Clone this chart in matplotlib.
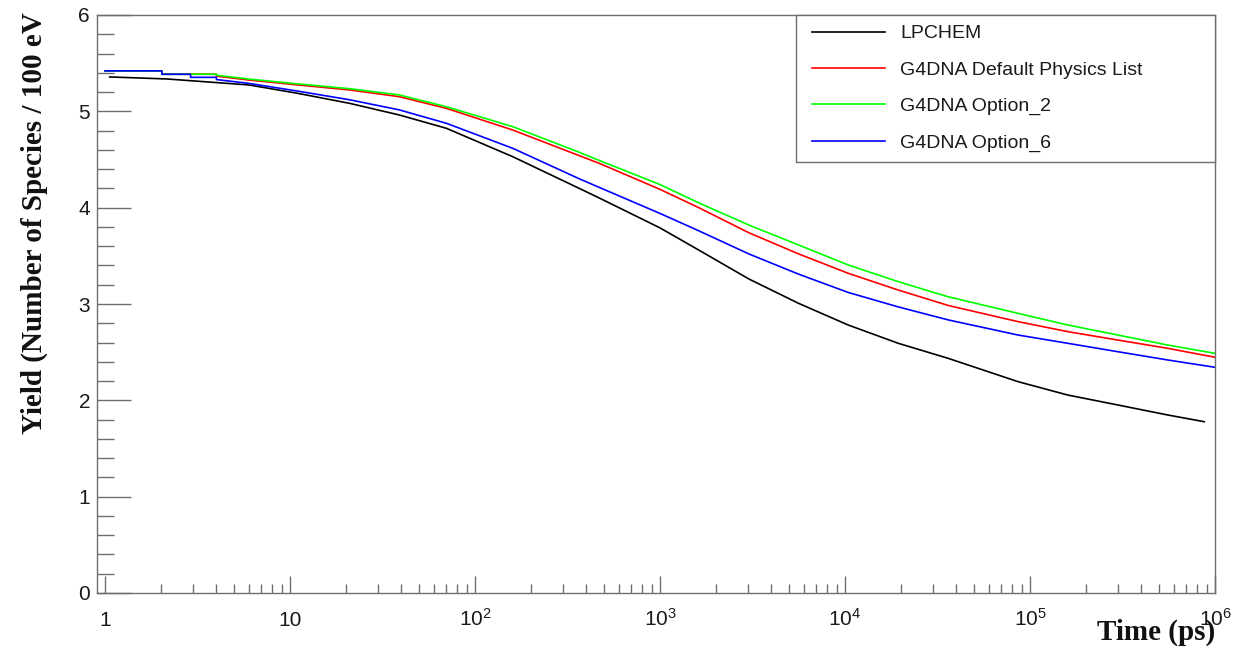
import numpy as np
import matplotlib
matplotlib.use("Agg")
import matplotlib.pyplot as plt
from matplotlib.ticker import LogLocator, MultipleLocator, FixedLocator, FuncFormatter, NullFormatter
from matplotlib.legend_handler import HandlerLine2D
from matplotlib.lines import Line2D

plt.rcParams['font.family'] = ['Liberation Sans', 'DejaVu Sans']
plt.rcParams['mathtext.fontset'] = 'custom'
plt.rcParams['mathtext.rm'] = 'Liberation Sans'
plt.rcParams['mathtext.it'] = 'Liberation Sans:italic'
plt.rcParams['mathtext.bf'] = 'Liberation Sans:bold'
plt.rcParams['mathtext.default'] = 'regular'

# ---------------- data ----------------
series_labels = ["LPCHEM", "G4DNA Default Physics List", "G4DNA Option_2", "G4DNA Option_6"]
series_colors = ["#000000", "#ff0000", "#00ff00", "#0000ff"]

time_common = [6, 11, 21, 39, 70, 160, 366, 470, 1000, 1620, 3020, 5610, 10400,
               19400, 36100, 86100, 160000, 298000, 555000]

lpchem_time = [1.06, 2.16] + time_common + [875000]
lpchem_yield = [5.357, 5.336, 5.274, 5.187, 5.083, 4.962, 4.824, 4.529, 4.20, 4.10,
                3.79, 3.56, 3.26, 3.007, 2.782, 2.592, 2.436, 2.194, 2.055, 1.952,
                1.848, 1.778]

default_time = [1, 2.03, 2.03, 4.0, 4.0] + time_common + [1000000]
default_yield = [5.42, 5.42, 5.385, 5.385, 5.365,
                 5.325, 5.274, 5.222, 5.152, 5.031, 4.806, 4.54, 4.46, 4.19, 4.00,
                 3.74, 3.52, 3.319, 3.145, 2.985, 2.817, 2.713, 2.626, 2.540, 2.447]

opt2_time = [1, 2.03, 2.03, 4.0, 4.0] + time_common + [1000000]
opt2_yield = [5.42, 5.42, 5.385, 5.385, 5.375,
              5.335, 5.285, 5.235, 5.17, 5.048, 4.841, 4.575, 4.49, 4.24, 4.05,
              3.82, 3.613, 3.405, 3.232, 3.075, 2.903, 2.782, 2.678, 2.574, 2.488]

opt6_time = [1, 2.03, 2.03, 2.9, 2.9, 4.0, 4.0] + time_common + [1000000]
opt6_yield = [5.42, 5.42, 5.385, 5.385, 5.353, 5.353, 5.33,
              5.29, 5.21, 5.12, 5.015, 4.876, 4.616, 4.30, 4.21, 3.94, 3.76,
              3.52, 3.31, 3.12, 2.97, 2.835, 2.678, 2.592, 2.505, 2.419, 2.343]

x_ticks = [1, 10, 100, 1000, 10000, 100000, 1000000]
y_ticks = [0, 1, 2, 3, 4, 5, 6]

x_title = "Time (ps)"
y_title = "Yield (Number of Species / 100 eV"

# ---------------- figure ----------------
W, H = 1234, 650
fig = plt.figure(figsize=(W / 100, H / 100), dpi=100)
ax = fig.add_axes([97 / W, (H - 593) / H, (1215 - 97) / W, (593 - 15) / H])

all_t = [lpchem_time, default_time, opt2_time, opt6_time]
all_y = [lpchem_yield, default_yield, opt2_yield, opt6_yield]
for t, y, lab, col in zip(all_t, all_y, series_labels, series_colors):
    ax.plot(t, y, color=col, lw=1.2, label=lab, solid_joinstyle='round')

ax.set_xscale('log')
ax.set_xlim(0.905, 1e6)
ax.set_ylim(0, 6)

axis_col = '#6e6e6e'
for sp in ax.spines.values():
    sp.set_color(axis_col)
    sp.set_linewidth(1.0)

ax.xaxis.set_major_locator(FixedLocator(x_ticks))
ax.xaxis.set_minor_locator(LogLocator(base=10, subs=np.arange(2, 10), numticks=20))
ax.xaxis.set_minor_formatter(NullFormatter())


def xfmt(v, pos):
    e = int(round(np.log10(v)))
    if e == 0:
        return "1"
    if e == 1:
        return "10"
    return r"$10^{%d}$" % e


ax.xaxis.set_major_formatter(FuncFormatter(xfmt))
ax.yaxis.set_major_locator(FixedLocator(y_ticks))
ax.yaxis.set_minor_locator(MultipleLocator(0.2))

ax.tick_params(axis='x', which='major', direction='in', length=12.2, width=1.0,
               color=axis_col, labelsize=15, pad=23.5, labelcolor='#1a1a1a')
ax.tick_params(axis='x', which='minor', direction='in', length=6.5, width=1.0, color=axis_col)
ax.tick_params(axis='y', which='major', direction='in', length=24.5, width=1.0,
               color=axis_col, labelsize=15, pad=5, labelcolor='#1a1a1a')
ax.tick_params(axis='y', which='minor', direction='in', length=12.2, width=1.0, color=axis_col)
ax.tick_params(top=False, right=False, which='both')

for tk in ax.xaxis.get_major_ticks():
    tk.label1.set_verticalalignment('baseline')

leg = ax.legend(loc='upper left', bbox_to_anchor=(0.625, 1.0, 0.375, 0.0), mode='expand',
                borderaxespad=0, fontsize=14, handlelength=4.41, handletextpad=0.45,
                labelspacing=0.97, borderpad=0.5, frameon=True, fancybox=False,
                edgecolor=axis_col, framealpha=1, numpoints=2,
                handler_map={Line2D: HandlerLine2D(marker_pad=0.32, numpoints=2)})
leg.get_frame().set_linewidth(1.0)
for txt in leg.get_texts():
    txt.set_color('#1a1a1a')

fig.text(1215 / W, (H - 640) / H, x_title, ha='right', va='baseline',
         fontsize=21, fontweight='bold', family='Liberation Serif', color='#111111')
fig.text(34 / W, 1 - 12 / H, y_title, ha='center', va='top', rotation=90,
         fontsize=21, fontweight='bold', family='Liberation Serif', color='#111111')

fig.savefig("out.png", dpi=100)
